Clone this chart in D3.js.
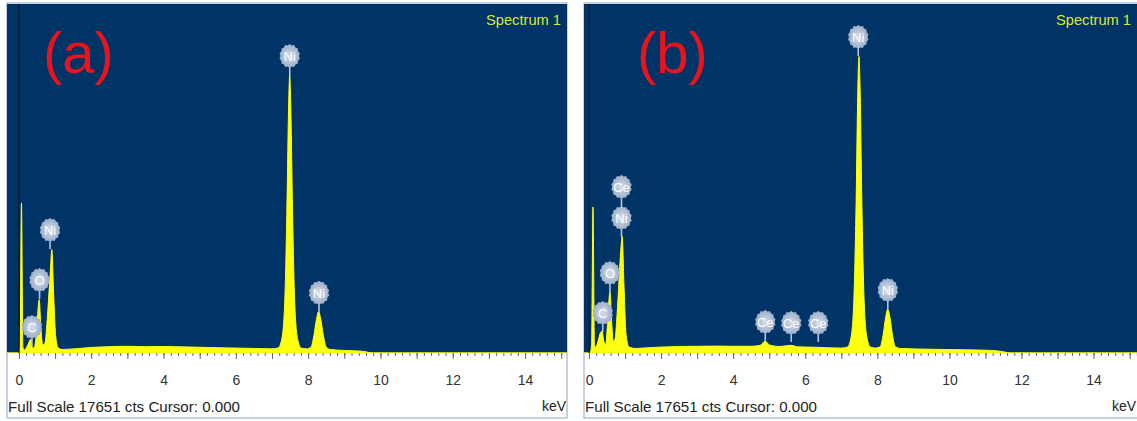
<!DOCTYPE html>
<html>
<head>
<meta charset="utf-8">
<script src="https://cdn.jsdelivr.net/npm/d3@7"></script>
<style>
body { margin: 0; background: #fff; }
svg { display: block; }
text { font-family: "Liberation Sans", Arial, sans-serif; }
</style>
</head>
<body>
<svg id="chart" width="1137" height="421"></svg>
<script>
const fullScale = 17651;
const axisLabels = [0, 2, 4, 6, 8, 10, 12, 14];

// [keV, counts]
const spectrumA = [
	[-0.33, 0], [0.0, 0], [0.03, 300], [0.07, 7590], [0.11, 300], [0.15, 150],
	[0.20, 250], [0.27, 500], [0.32, 700], [0.37, 300], [0.42, 250],
	[0.48, 900], [0.56, 2700], [0.61, 1200], [0.66, 400], [0.72, 500],
	[0.79, 1900], [0.87, 4200], [0.91, 5230], [0.96, 3000], [1.02, 800], [1.09, 250],
	[1.2, 180], [1.6, 220], [2.0, 280], [2.5, 320], [3.0, 340], [3.5, 320], [4.0, 330],
	[4.5, 310], [5.0, 290], [5.5, 270], [6.0, 250], [6.5, 230], [7.0, 210],
	[7.17, 260], [7.27, 700], [7.35, 2500], [7.41, 7000], [7.46, 12500], [7.49, 14100],
	[7.52, 12500], [7.57, 7000], [7.63, 2500], [7.71, 700], [7.81, 250],
	[7.95, 210], [8.08, 300], [8.16, 900], [8.23, 1700], [8.29, 2100], [8.35, 1700],
	[8.42, 900], [8.50, 300], [8.62, 180], [9.0, 130], [9.5, 90], [9.8, 0], [15.2, 0]
];

// [keV, counts]
const spectrumB = [
	[-0.14, 0], [0.03, 0], [0.07, 400], [0.11, 7385], [0.15, 400], [0.19, 300],
	[0.25, 600], [0.31, 1000], [0.36, 1100], [0.41, 600], [0.46, 400],
	[0.51, 1400], [0.58, 3100], [0.63, 1500], [0.67, 600], [0.72, 700],
	[0.79, 2300], [0.87, 4900], [0.92, 5900], [0.97, 3400], [1.03, 900], [1.11, 300],
	[1.3, 230], [1.6, 260], [2.0, 300], [2.5, 330], [3.0, 340], [3.5, 350], [4.0, 340],
	[4.5, 340], [4.75, 390], [4.89, 600], [5.0, 410], [5.3, 330], [5.6, 390], [5.8, 310],
	[6.3, 290], [6.6, 270], [7.0, 250],
	[7.17, 300], [7.27, 800], [7.35, 2800], [7.41, 7600], [7.46, 13500], [7.49, 15000],
	[7.52, 13500], [7.57, 7600], [7.63, 2800], [7.71, 800], [7.81, 300],
	[7.95, 250], [8.08, 320], [8.16, 900], [8.23, 1800], [8.29, 2220], [8.35, 1800],
	[8.42, 900], [8.50, 320], [8.65, 230], [9.5, 190], [10.5, 160], [11.2, 130],
	[11.5, 60], [11.7, 0], [15.3, 0]
];

// element markers: energy, counts where the stem ends, stack level
const markersA = [
	{ el: 'C', kev: 0.36, cts: 354, stack: 0 },
	{ el: 'O', kev: 0.57, cts: 2730, stack: 0 },
	{ el: 'Ni', kev: 0.86, cts: 5260, stack: 0 },
	{ el: 'Ni', kev: 7.49, cts: 14060, stack: 0 },
	{ el: 'Ni', kev: 8.30, cts: 2080, stack: 0 }
];

const markersB = [
	{ el: 'C', kev: 0.38, cts: 1060, stack: 0 },
	{ el: 'O', kev: 0.58, cts: 3085, stack: 0 },
	{ el: 'Ni', kev: 0.90, cts: 5870, stack: 0 },
	{ el: 'Ce', kev: 0.90, cts: 5870, stack: 1 },
	{ el: 'Ce', kev: 4.89, cts: 610, stack: 0 },
	{ el: 'Ce', kev: 5.61, cts: 560, stack: 0 },
	{ el: 'Ce', kev: 6.36, cts: 560, stack: 0 },
	{ el: 'Ni', kev: 7.47, cts: 15020, stack: 0 },
	{ el: 'Ni', kev: 8.29, cts: 2225, stack: 0 }
];

const panels = [
	{ id: 'a', tag: '(a)', left: 7, right: 567, domain: [-0.33, 15.16], spectrum: spectrumA, markers: markersA },
	{ id: 'b', tag: '(b)', left: 584, right: 1139, domain: [-0.14, 15.26], spectrum: spectrumB, markers: markersB }
];

const plotTop = 4;
const plotBottom = 353;
const frameBottom = 418;
const pageWidth = 1137;

const svg = d3.select('#chart');
const defs = svg.append('defs');

const grad = defs.append('radialGradient').attr('id', 'badge');
grad.append('stop').attr('offset', '0%').attr('stop-color', '#d6dfec');
grad.append('stop').attr('offset', '100%').attr('stop-color', '#9aacc8');

// jagged round badge like the EDS software peak labels
const badgePath = d3
	.lineRadial()
	.curve(d3.curveLinearClosed)(d3.range(28).map((i) => [(i / 28) * 2 * Math.PI, i % 2 ? 9.8 : 11.0]));

panels.forEach((p) => {
	const g = svg.append('g');

	const x = d3.scaleLinear().domain(p.domain).range([p.left, p.right]);
	const y = d3.scaleLinear().domain([0, fullScale]).range([plotBottom, plotTop]);
	const textRight = Math.min(p.right, pageWidth);

	defs
		.append('clipPath')
		.attr('id', `clip-${p.id}`)
		.append('rect')
		.attr('x', p.left)
		.attr('y', plotTop)
		.attr('width', p.right - p.left)
		.attr('height', plotBottom - plotTop);

	// frame + white axis strip
	g.append('rect')
		.attr('x', p.left)
		.attr('y', plotTop - 1)
		.attr('width', p.right - p.left)
		.attr('height', frameBottom - plotTop + 1)
		.attr('fill', '#fff')
		.attr('stroke', '#9fb4cc')
		.attr('stroke-width', 1.2);

	g.append('rect')
		.attr('x', p.left)
		.attr('y', plotTop)
		.attr('width', p.right - p.left)
		.attr('height', plotBottom - plotTop)
		.attr('fill', '#003366');

	const area = d3
		.area()
		.x((d) => x(d[0]))
		.y0(plotBottom)
		.y1((d) => y(d[1]))
		.curve(d3.curveMonotoneX);

	g.append('path')
		.datum(p.spectrum)
		.attr('clip-path', `url(#clip-${p.id})`)
		.attr('d', area)
		.attr('fill', '#ffff10')
		.attr('stroke', '#ffff10')
		.attr('stroke-width', 1);

	// cursor at 0.000 keV
	g.append('line')
		.attr('x1', x(0))
		.attr('x2', x(0))
		.attr('y1', plotTop)
		.attr('y2', plotBottom)
		.attr('stroke', '#0c1b30')
		.attr('stroke-width', 1.4);

	// element badges
	const mk = g
		.selectAll('g.marker')
		.data(p.markers)
		.enter()
		.append('g')
		.attr('class', 'marker')
		.attr('transform', (d) => `translate(${x(d.kev)},${y(d.cts) - 19 - d.stack * 31})`);

	mk.append('line')
		.attr('x1', 0)
		.attr('x2', 0)
		.attr('y1', 10)
		.attr('y2', (d) => (d.stack ? 21 : 19))
		.attr('stroke', '#b9c6da')
		.attr('stroke-width', 1.6);

	mk.append('path')
		.attr('d', badgePath)
		.attr('transform', 'scale(0.95,1.1)')
		.attr('fill', 'url(#badge)');

	mk.append('text')
		.attr('text-anchor', 'middle')
		.attr('dy', '0.36em')
		.attr('font-size', 13)
		.attr('fill', '#fff')
		.text((d) => d.el);

	// ticks
	const tickAxis = (vals, size) =>
		g
			.append('g')
			.attr('transform', `translate(0,${plotBottom})`)
			.call(d3.axisBottom(x).tickValues(vals).tickSize(size).tickFormat(''))
			.call((s) => s.select('.domain').remove())
			.selectAll('line')
			.attr('stroke', '#666');

	tickAxis(d3.range(0, 15.3, 0.2).filter((v) => x(v) < p.right), 3);
	tickAxis(d3.range(0, 16).filter((v) => x(v) < p.right), 6);

	const labelAxis = g
		.append('g')
		.attr('transform', `translate(0,${plotBottom})`)
		.call(d3.axisBottom(x).tickValues(axisLabels).tickSize(0).tickPadding(22).tickFormat(d3.format('d')));
	labelAxis.select('.domain').remove();
	labelAxis
		.selectAll('text')
		.attr('font-size', 14)
		.attr('font-family', '"Liberation Sans", Arial, sans-serif')
		.attr('fill', '#333');

	g.append('text')
		.attr('x', p.left + 1)
		.attr('y', 412)
		.attr('font-size', 15)
		.attr('textLength', 232)
		.attr('lengthAdjust', 'spacingAndGlyphs')
		.attr('fill', '#222')
		.text('Full Scale 17651 cts Cursor: 0.000');

	g.append('text')
		.attr('x', textRight - 1)
		.attr('y', 411)
		.attr('text-anchor', 'end')
		.attr('font-size', 14)
		.attr('fill', '#222')
		.text('keV');

	g.append('text')
		.attr('x', textRight - 6)
		.attr('y', 25)
		.attr('text-anchor', 'end')
		.attr('font-size', 14)
		.attr('textLength', 75)
		.attr('lengthAdjust', 'spacingAndGlyphs')
		.attr('fill', '#d9e836')
		.text('Spectrum 1');

	g.append('text')
		.attr('x', x(0) + (p.id === 'a' ? 24 : 48))
		.attr('y', 73)
		.attr('font-family', '"Open Sans", sans-serif')
		.attr('font-size', 58)
		.attr('fill', '#e8141c')
		.text(p.tag);
});
</script>
</body>
</html>
